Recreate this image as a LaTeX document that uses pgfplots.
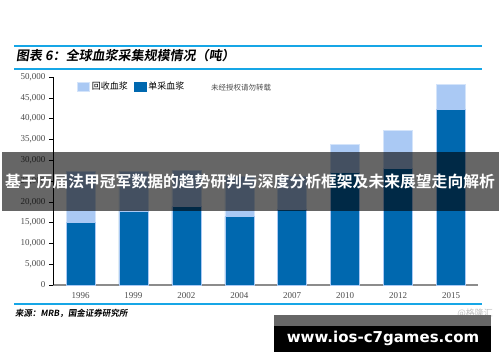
\documentclass[border=0pt]{standalone}
\usepackage{pgfplots}
\pgfplotsset{compat=1.18}
\usepackage{fontspec}
\setmainfont{Liberation Serif}
\newfontfamily\cjk[BoldFont={Noto Sans CJK SC Bold}]{Noto Sans CJK SC}
\newfontfamily\cjkt[FakeSlant=0.15]{Noto Sans CJK SC Bold}
\newfontfamily\webfont{DejaVu Sans Bold}
\definecolor{darkb}{HTML}{0068AF}
\definecolor{lightb}{HTML}{AAC9F4}
\definecolor{skyb}{HTML}{16A6E6}
\begin{document}
\begin{tikzpicture}[x=1pt,y=1pt]
\useasboundingbox (0,0) rectangle (500,362);
\fill[white] (0,0) rectangle (500,362);
\draw[skyb, line width=1.4pt] (14,316) -- (482,316);
\draw[skyb, line width=1.4pt] (14,293) -- (482,293);
\draw[skyb, line width=1.4pt] (14,58) -- (482,58);
\node[anchor=west, inner sep=0pt] at (16,306.5) {\cjkt\fontsize{13}{13}\selectfont 图表 6：全球血浆采集规模情况（吨）};
\node[anchor=west, inner sep=0pt] at (15,49) {\cjkt\fontsize{8.5}{8.5}\selectfont 来源：MRB，国金证券研究所};
\node[anchor=east, inner sep=0pt, text=black!25] at (493,49) {\cjk\fontsize{9}{9}\selectfont @格隆汇};
\begin{axis}[
  at={(53pt,77pt)}, anchor=south west,
  scale only axis, width=425pt, height=208pt,
  ybar stacked, bar width=29pt,
  xmin=-0.52, xmax=7.51, ymin=0, ymax=50000,
  xtick=data, xticklabels={1996,1999,2002,2004,2007,2010,2012,2015},
  ytick={0,5000,...,50000},
  scaled y ticks=false,
  axis x line*=bottom, axis y line*=left,
  x axis line style={draw=black!45, line width=1.6pt},
  y axis line style={draw=black, line width=0.8pt},
  xtick style={draw=none},
  ytick style={draw=black, line width=0.6pt},
  tick align=outside, major tick length=4pt,
  /pgf/number format/.cd, 1000 sep={,}, assume math mode=true,
  /pgfplots/.cd,
  ticklabel style={font=\fontsize{9}{9}\selectfont, text=black!70},
  legend style={at={(axis description cs:0.05,0.995)}, anchor=north west, draw=none, fill=none,
    font=\cjk\fontsize{9}{9}\selectfont, legend columns=2,
    /tikz/every even column/.append style={column sep=4pt}},
  legend image code/.code={\draw[#1] (0pt,-4.5pt) rectangle (12pt,4.5pt);},
]
\addlegendimage{fill=lightb, draw=lightb!50!white}
\addlegendentry{回收血浆}
\addlegendimage{fill=darkb, draw=darkb}
\addlegendentry{单采血浆}
\addplot[fill=darkb, draw=lightb, line width=0.6pt, forget plot] coordinates {(0,15000) (1,17800) (2,18800) (3,16400) (4,18200) (5,27000) (6,28100) (7,42300)};
\addplot[fill=lightb, draw=lightb!50!white, line width=0.6pt, forget plot] coordinates {(0,12300) (1,9500) (2,8700) (3,9800) (4,8000) (5,6800) (6,9000) (7,6000)};
\end{axis}
\node[anchor=west, inner sep=0pt, text=black!70] at (211,274) {\cjk\fontsize{7.5}{7.5}\selectfont 未经授权请勿转载};
\fill[black, opacity=0.6] (2,151) rectangle (499,210);
\node[inner sep=0pt, text=white] at (250,180) {\cjk\bfseries\fontsize{15.8}{15.8}\selectfont 基于历届法甲冠军数据的趋势研判与深度分析框架及未来展望走向解析};
\fill[black!60] (274,35) rectangle (491,47);
\fill[black] (274,10) rectangle (491,36);
\node[inner sep=0pt, text=white] at (383,24) {\webfont\fontsize{15}{15}\selectfont www.ios-c7games.com};
\end{tikzpicture}
\end{document}
